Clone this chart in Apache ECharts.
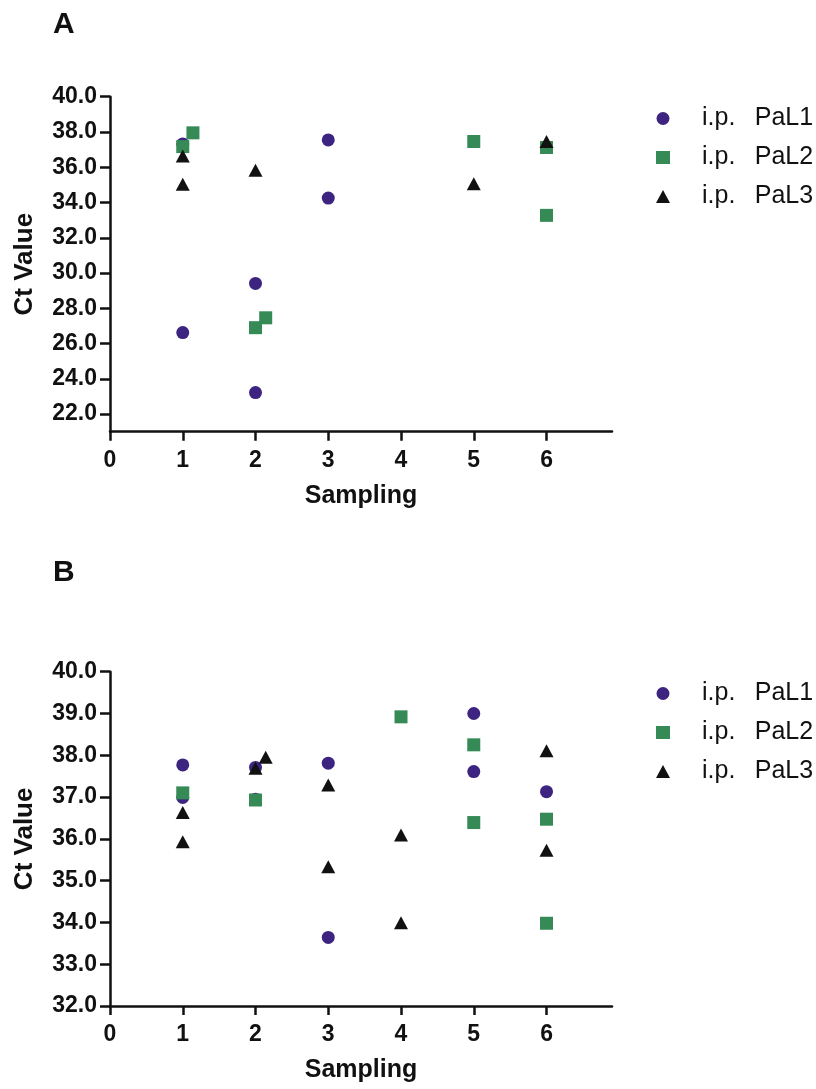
<!DOCTYPE html>
<html>
<head>
<meta charset="utf-8">
<script src="https://cdn.jsdelivr.net/npm/echarts@6/dist/echarts.min.js"></script>
<style>
html,body{margin:0;padding:0;background:#fff;}
#chart{width:816px;height:1089px;}
</style>
</head>
<body>
<div id="chart"></div>
<script>
// Panel labels and series names
const panelTitles = ['A', 'B'];
const seriesNames = ['i.p. PaL1', 'i.p. PaL2', 'i.p. PaL3'];
const xTicks = [0, 1, 2, 3, 4, 5, 6];
const yTicksA = [22, 24, 26, 28, 30, 32, 34, 36, 38, 40];
const yTicksB = [32, 33, 34, 35, 36, 37, 38, 39, 40];

// Panel A data: [sampling, Ct value]
const a_PaL1 = [[1, 37.32], [1, 26.62], [2, 29.41], [2, 23.22], [3, 37.55], [3, 34.25]];
const a_PaL2 = [[1, 37.17], [1.14, 37.95], [2, 26.9], [2.14, 27.46], [5, 37.46], [6, 37.12], [6, 33.27]];
const a_PaL3 = [[1, 36.63], [1, 35.03], [2, 35.83], [5, 35.06], [6, 37.46]];

// Panel B data
const b_PaL1 = [[1, 37.77], [1, 36.99], [2, 37.71], [2, 36.95], [3, 37.81], [3, 33.64], [5, 39.0], [5, 37.61], [6, 37.13]];
const b_PaL2 = [[1, 37.1], [2, 36.93], [4, 38.92], [5, 38.25], [5, 36.39], [6, 36.47], [6, 33.98]];
const b_PaL3 = [[1, 36.63], [1, 35.93], [2, 37.69], [2.14, 37.95], [3, 37.29], [3, 35.33], [4, 36.09], [4, 33.99], [6, 38.11], [6, 35.73]];

const colors = ['#3d2480', '#358a56', '#111111'];
const symbols = ['circle', 'rect', 'triangle'];
const FONT = '"Liberation Sans", Arial, sans-serif';
const INK = '#111';

function xAxisCfg(gridIndex) {
  return {
    type: 'value', gridIndex: gridIndex, min: 0, max: 6.9,
    name: 'Sampling', nameLocation: 'middle', nameGap: 52,
    nameTextStyle: {fontFamily: FONT, fontWeight: 'bold', fontSize: 25, color: INK},
    axisLine: {show: true, lineStyle: {color: INK, width: 2.5}},
    axisTick: {show: true, length: 9, lineStyle: {color: INK, width: 2.5}, customValues: xTicks},
    axisLabel: {fontFamily: FONT, fontWeight: 'bold', fontSize: 23, color: INK, margin: 17, customValues: xTicks},
    splitLine: {show: false}
  };
}
function yAxisCfg(gridIndex, min, ticks) {
  return {
    type: 'value', gridIndex: gridIndex, min: min, max: 40,
    name: 'Ct Value', nameLocation: 'middle', nameGap: 72, nameRotate: 90,
    nameTextStyle: {fontFamily: FONT, fontWeight: 'bold', fontSize: 26, color: INK},
    axisLine: {show: true, lineStyle: {color: INK, width: 2.5}},
    axisTick: {show: true, length: 10, lineStyle: {color: INK, width: 2.5}, customValues: ticks},
    axisLabel: {fontFamily: FONT, fontWeight: 'bold', fontSize: 23, color: INK, margin: 13,
      customValues: ticks, formatter: v => Number(v).toFixed(1)},
    splitLine: {show: false}
  };
}
function legendCfg(top) {
  return {
    orient: 'vertical', left: 651, top: top,
    itemWidth: 14, itemHeight: 13, itemGap: 14,
    data: seriesNames,
    formatter: name => name.replace(' ', '\u2002 '),
    textStyle: {fontFamily: FONT, fontSize: 25, color: INK, lineHeight: 25, padding: [0, 0, 0, 27]}
  };
}
function scatter(name, idx, data, gridIdx) {
  return {
    type: 'scatter', name: name, xAxisIndex: gridIdx, yAxisIndex: gridIdx,
    data: data, symbol: symbols[idx], symbolSize: idx === 2 ? [14, 13] : 13,
    itemStyle: {color: colors[idx], opacity: 1},
    emphasis: {disabled: true}
  };
}

const chart = echarts.init(document.getElementById('chart'), null, {renderer: 'canvas'});
chart.setOption({
  animation: false,
  backgroundColor: '#ffffff',
  title: [
    {text: panelTitles[0], left: 48, top: 5, textStyle: {fontFamily: FONT, fontWeight: 'bold', fontSize: 30, color: INK}},
    {text: panelTitles[1], left: 48, top: 553, textStyle: {fontFamily: FONT, fontWeight: 'bold', fontSize: 30, color: INK}}
  ],
  legend: [legendCfg(101), legendCfg(676)],
  grid: [
    {left: 110, top: 96.7, width: 502, height: 335},
    {left: 110, top: 671.7, width: 502, height: 334.3}
  ],
  xAxis: [xAxisCfg(0), xAxisCfg(1)],
  yAxis: [yAxisCfg(0, 21, yTicksA), yAxisCfg(1, 32, yTicksB)],
  series: [
    scatter(seriesNames[0], 0, a_PaL1, 0),
    scatter(seriesNames[1], 1, a_PaL2, 0),
    scatter(seriesNames[2], 2, a_PaL3, 0),
    scatter(seriesNames[0], 0, b_PaL1, 1),
    scatter(seriesNames[1], 1, b_PaL2, 1),
    scatter(seriesNames[2], 2, b_PaL3, 1)
  ]
});
</script>
</body>
</html>
